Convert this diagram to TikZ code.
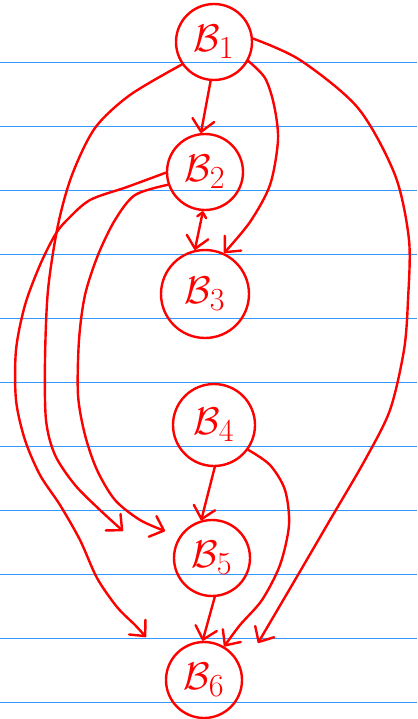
\documentclass[tikz,border=0pt]{standalone}
\usepackage{graphicx}
\usetikzlibrary{arrows.meta}

\definecolor{pen}{RGB}{255,0,0}
\definecolor{rule}{RGB}{51,153,255}

% block label, drawn larger than the math fonts go
\newcommand{\blk}[1]{\scalebox{1.55}{$\mathcal{B}_{#1}$}}

\begin{document}
\begin{tikzpicture}[x=1pt, y=-1pt]
    \tikzset{
        block/.style={circle, draw=pen, line width=2.4pt, minimum size=76pt, inner sep=0pt,
            text=pen, font=\fontsize{24.88}{25}\selectfont},
        flow/.style={draw=pen, line width=2.4pt, line cap=round, line join=round,
            -{Straight Barb[length=12pt, width=22pt, round]}},
        ruled/.style={draw=rule, line width=1.6pt}
    }
    \useasboundingbox (0,0) rectangle (417,719);

    % ruled paper
    \foreach \k in {0,...,10}
        \draw[ruled] (0,62.5+64*\k) -- (417,62.5+64*\k);

    % blocks
    \node[block] (b1) at (214,42) {\blk{1}};
    \node[block] (b2) at (205,172) {\blk{2}};
    \node[block, minimum size=88pt] (b3) at (205,294) {\blk{3}};
    \node[block, minimum size=82pt] (b4) at (214,425) {\blk{4}};
    \node[block] (b5) at (212,558) {\blk{5}};
    \node[block] (b6) at (204,680) {\blk{6}};

    % loose arrow ends
    \coordinate (in5a) at (123,531);
    \coordinate (in5b) at (165,531);
    \coordinate (in6a) at (146,637);
    \coordinate (in6d) at (258,643);

    % straight edges
    \draw[flow] (b1.265) -- (b2.96);
    \draw[flow, {Straight Barb[length=5pt, width=9pt, round]}-{Straight Barb[length=12pt, width=22pt, round]}]
        (b2.267) -- (b3.103);
    \draw[flow] (b4.271) -- (b5.106);
    \draw[flow] (b5.274) -- (b6.92);

    % bent edges
    \draw[flow] plot[smooth] coordinates {(b1.331) (265,78) (274,105) (278,140) (270,185) (250,222) (b3.65)};
    \draw[flow] plot[smooth] coordinates {(b1.5) (300,60) (358,108) (395,175) (409,240)
        (408,300) (404,350) (390,410) (365,460) (330,520) (295,580) (in6d)};
    \draw[flow] plot[smooth] coordinates {(b1.215) (130,95) (95,128) (72,175) (58,225) (48,290)
        (45,360) (46,420) (55,455) (75,485) (100,510) (in5a)};
    \draw[flow] plot[smooth] coordinates {(b2.181) (127,187) (90,200) (67,220) (55,235) (40,265)
        (25,305) (16,350) (16,400) (25,440) (40,475) (60,505) (80,540) (97,578) (117,607) (135,625) (in6a)};
    \draw[flow] plot[smooth] coordinates {(b2.199) (135,195) (115,220) (98,255) (85,295) (79,340)
        (78,395) (85,435) (97,470) (115,500) (140,520) (in5b)};
    \draw[flow] plot[smooth] coordinates {(b4.324) (270,465) (285,490) (289,525) (280,565)
        (262,600) (240,625) (b6.59)};
\end{tikzpicture}
\end{document}
